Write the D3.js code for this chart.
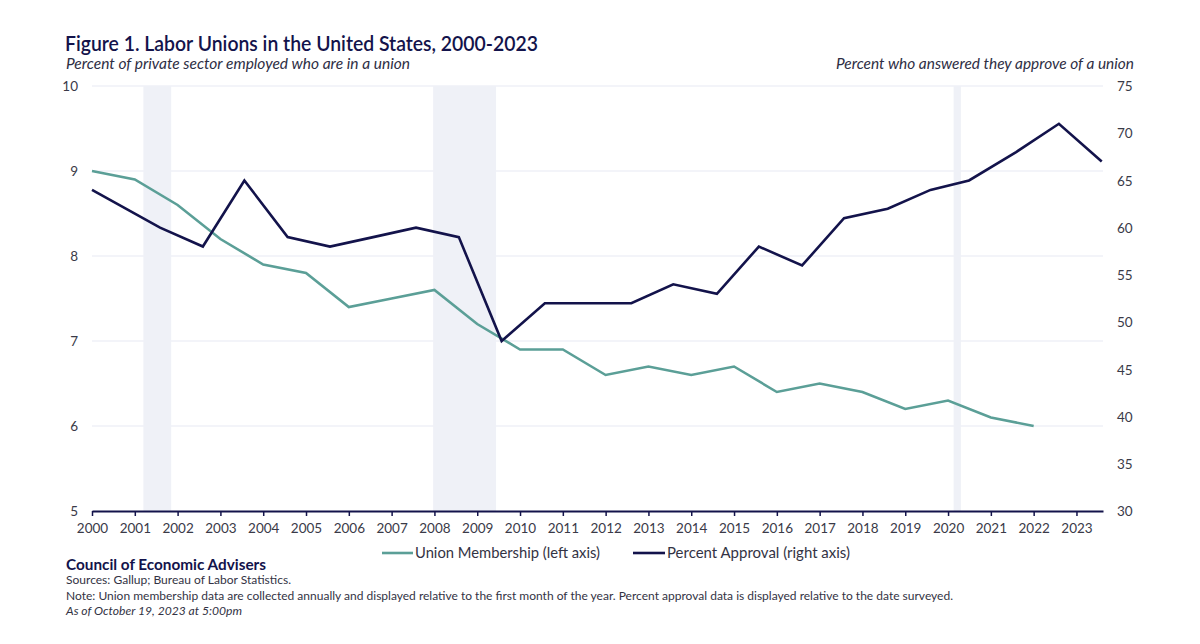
<!DOCTYPE html>
<html>
<head>
<meta charset="utf-8">
<script src="https://cdn.jsdelivr.net/npm/d3@7"></script>
<style>
  html, body { margin: 0; padding: 0; background: #ffffff; }
  svg { display: block; font-family: Lato, "Open Sans", sans-serif; }
</style>
</head>
<body>
<svg id="chart" width="1200" height="644"></svg>
<script>
// ---------------- data ----------------
const membershipYears = [2000, 2001, 2002, 2003, 2004, 2005, 2006, 2007, 2008, 2009, 2010, 2011,
                         2012, 2013, 2014, 2015, 2016, 2017, 2018, 2019, 2020, 2021, 2022];
const membershipValues = [9.0, 8.9, 8.6, 8.2, 7.9, 7.8, 7.4, 7.5, 7.6, 7.2, 6.9, 6.9,
                          6.6, 6.7, 6.6, 6.7, 6.4, 6.5, 6.4, 6.2, 6.3, 6.1, 6.0];

// approval survey dates (decimal years) and values
const approvalDates = [2000.0, 2001.59, 2002.59, 2003.56, 2004.57, 2005.56, 2006.57, 2007.57,
                       2008.57, 2009.57, 2010.58, 2011.60, 2012.60, 2013.58, 2014.60, 2015.58,
                       2016.59, 2017.57, 2018.59, 2019.59, 2020.49, 2021.59, 2022.59, 2023.59];
const approvalValues = [64, 60, 58, 65, 59, 58, 59, 60, 59, 48, 52, 52, 52, 54, 53, 58,
                        56, 61, 62, 64, 65, 68, 71, 67];

// recession periods (decimal years)
const recessionStarts = [2001.20, 2007.97, 2020.13];
const recessionEnds   = [2001.85, 2009.44, 2020.30];

const xTickYears = d3.range(2000, 2024);
const leftTicks = [5, 6, 7, 8, 9, 10];
const rightTicks = [30, 35, 40, 45, 50, 55, 60, 65, 70, 75];
const gridValues = [6, 7, 8, 9, 10];

const titleText = "Figure 1. Labor Unions in the United States, 2000-2023";
const leftSubtitle = "Percent of private sector employed who are in a union";
const rightSubtitle = "Percent who answered they approve of a union";
const seriesNames = ["Union Membership (left axis)", "Percent Approval (right axis)"];
const footerOrg = "Council of Economic Advisers";
const footerSources = "Sources: Gallup; Bureau of Labor Statistics.";
const footerNote = "Note: Union membership data are collected annually and displayed relative to the first month of the year. Percent approval data is displayed relative to the date surveyed.";
const footerDate = "As of October 19, 2023 at 5:00pm";

// ---------------- styles ----------------
const NAVY = "#13134b";
const TEAL = "#5b9f97";
const GRID = "#eff1f7";
const BAND = "#eff1f7";
const LABEL = "#3a3a48";

const svg = d3.select("#chart");
const L = 92, R = 1103, T = 86, B = 511;

const x = d3.scaleLinear().domain([2000, 2023.62]).range([L, R]);
const yL = d3.scaleLinear().domain([5, 10]).range([B, T]);
const yR = d3.scaleLinear().domain([30, 75]).range([B, T]);

// recession bands
svg.append("g").selectAll("rect")
  .data(recessionStarts.map((s, i) => [s, recessionEnds[i]]))
  .join("rect")
  .attr("x", d => x(d[0]))
  .attr("width", d => x(d[1]) - x(d[0]))
  .attr("y", T)
  .attr("height", B - T)
  .attr("fill", BAND);

// gridlines
svg.append("g").selectAll("line")
  .data(gridValues)
  .join("line")
  .attr("x1", L).attr("x2", R)
  .attr("y1", d => yL(d)).attr("y2", d => yL(d))
  .attr("stroke", GRID).attr("stroke-width", 1.5);

// left axis
const leftAxis = svg.append("g")
  .attr("transform", `translate(${L - 14},0)`)
  .call(d3.axisLeft(yL).tickValues(leftTicks).tickSize(0).tickFormat(d3.format("d")));
leftAxis.select(".domain").remove();
leftAxis.selectAll("text")
  .attr("x", 0).attr("dy", "0.35em")
  .attr("fill", LABEL).style("font-size", "13.5px").style("font-family", "Lato, sans-serif");

// right axis
const rightAxis = svg.append("g")
  .attr("transform", `translate(${R + 14},0)`)
  .call(d3.axisRight(yR).tickValues(rightTicks).tickSize(0).tickFormat(d3.format("d")));
rightAxis.select(".domain").remove();
rightAxis.selectAll("text")
  .attr("x", 0).attr("dy", "0.35em")
  .attr("fill", LABEL).style("font-size", "13.5px").style("font-family", "Lato, sans-serif");

// bottom axis
const bottomAxis = svg.append("g")
  .attr("transform", `translate(0,${B})`)
  .call(d3.axisBottom(x).tickValues(xTickYears).tickSize(5).tickSizeOuter(0).tickFormat(d3.format("d")));
bottomAxis.select(".domain").attr("stroke", NAVY).attr("stroke-width", 2);
bottomAxis.selectAll(".tick line").attr("stroke", NAVY).attr("stroke-width", 1.5);
bottomAxis.selectAll("text")
  .attr("y", 12).attr("dy", "0.71em")
  .attr("fill", LABEL).style("font-size", "13.5px").style("font-family", "Lato, sans-serif");

// lines
const lineL = d3.line().x((d, i) => x(membershipYears[i])).y(d => yL(d));
const lineR = d3.line().x((d, i) => x(approvalDates[i])).y(d => yR(d));

svg.append("path")
  .datum(membershipValues)
  .attr("d", lineL)
  .attr("fill", "none").attr("stroke", TEAL).attr("stroke-width", 2.6)
  .attr("stroke-linejoin", "miter");

svg.append("path")
  .datum(approvalValues)
  .attr("d", lineR)
  .attr("fill", "none").attr("stroke", NAVY).attr("stroke-width", 2.6)
  .attr("stroke-linejoin", "miter");

// helper for fitted text
function fitText(str, xPos, yPos, width, opts) {
  const t = svg.append("text")
    .attr("x", xPos).attr("y", yPos)
    .text(str)
    .attr("fill", opts.fill || LABEL)
    .style("font-size", opts.size + "px")
    .style("font-weight", opts.weight || 400)
    .style("font-style", opts.italic ? "italic" : "normal")
    .attr("text-anchor", opts.anchor || "start");
  if (width) t.attr("textLength", width).attr("lengthAdjust", "spacingAndGlyphs");
  return t;
}

// titles
fitText(titleText, 65, 51, 473, { size: 20.5, weight: 600, fill: NAVY });
fitText(leftSubtitle, 66, 69, 344, { size: 14.5, italic: true, fill: "#2e2e44" });
fitText(rightSubtitle, 1134, 69, 298, { size: 14.5, italic: true, fill: "#2e2e44", anchor: "end" });

// legend
const legendItems = [
  { name: seriesNames[0], color: TEAL, x1: 382, x2: 413, tx: 415, w: 185 },
  { name: seriesNames[1], color: NAVY, x1: 633, x2: 665, tx: 667, w: 183 }
];
legendItems.forEach(it => {
  svg.append("line")
    .attr("x1", it.x1).attr("x2", it.x2)
    .attr("y1", 553).attr("y2", 553)
    .attr("stroke", it.color).attr("stroke-width", 2.6);
  fitText(it.name, it.tx, 558, it.w, { size: 15, fill: "#333344" });
});

// footer
fitText(footerOrg, 66, 570, 200, { size: 14.5, weight: 700, fill: NAVY });
fitText(footerSources, 66, 584, 225, { size: 11.5, fill: "#333344" });
fitText(footerNote, 66, 600, 887, { size: 11.5, fill: "#333344" });
fitText(footerDate, 66, 615, 176, { size: 11.5, italic: true, fill: "#333344" });
</script>
</body>
</html>
